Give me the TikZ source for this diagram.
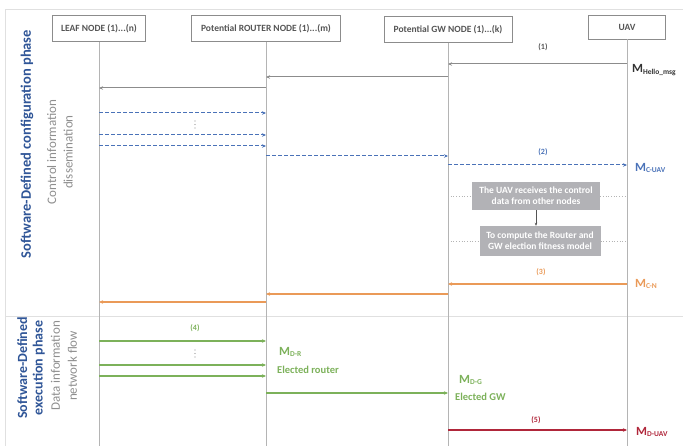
\documentclass[tikz,border=0pt]{standalone}
\usepackage{fontspec}
\setmainfont{Carlito}
\usetikzlibrary{arrows.meta}
\definecolor{lgray}{HTML}{B4B4B4}
\definecolor{mgray}{HTML}{8C8C8C}
\definecolor{tgray}{HTML}{8E8E8E}
\definecolor{hdrtext}{HTML}{555555}
\definecolor{cblue}{HTML}{4A72B8}
\definecolor{phblue}{HTML}{2F5597}
\definecolor{corange}{HTML}{EA9A58}
\definecolor{cgreen}{HTML}{7CB15A}
\definecolor{cred}{HTML}{B0263A}
\definecolor{boxgray}{HTML}{B2B2B6}
\tikzset{
  hdr/.style={draw=mgray, fill=white, minimum height=26pt, inner sep=1pt, font=\fontsize{9.5}{10}\selectfont\bfseries, text=hdrtext},
  life/.style={draw=lgray, line width=0.6pt},
  tipA/.style={-{Stealth[length=4pt,width=3.5pt]}},
  gmsg/.style={tipA, draw=mgray, line width=1pt},
  bmsg/.style={tipA, draw=cblue, dash pattern=on 3.5pt off 2.5pt, line width=1pt},
  omsg/.style={tipA, draw=corange, line width=1.1pt},
  grmsg/.style={tipA, draw=cgreen, line width=1.1pt},
  rmsg/.style={tipA, draw=cred, line width=1.1pt},
  num/.style={font=\fontsize{8}{9}\selectfont\bfseries},
  mlab/.style={anchor=west, inner sep=0pt, font=\fontsize{12.5}{13}\selectfont\bfseries},
  gbox/.style={fill=boxgray, text=white, align=center, font=\fontsize{9.5}{11}\selectfont\bfseries, inner sep=1pt},
  phase/.style={rotate=90, align=center, text=phblue, font=\fontsize{14.5}{15.5}\selectfont\bfseries},
  sub/.style={rotate=90, align=center, text=tgray, font=\fontsize{13}{16.5}\selectfont},
  frame/.style={draw=black!12, line width=0.6pt},
  vdot/.style={circle, fill=tgray, inner sep=0pt, minimum size=1.1pt},
}
\newcommand{\Msub}[2]{M\textsubscript{\fontsize{7.5}{8}\selectfont #2}}
\begin{document}
\begin{tikzpicture}[x=1pt,y=-1pt]
\useasboundingbox (0,0) rectangle (683,446);
% frame
\draw[frame] (5,9) -- (683,9);
\draw[frame] (5,9) -- (5,446);
\draw[frame] (5,316) -- (683,316);
% headers
\node[hdr, minimum width=93pt] (leaf) at (99,28.5) {LEAF NODE (1)...(n)};
\node[hdr, minimum width=149pt] (rtr) at (266,28.5) {Potential ROUTER NODE (1)...(m)};
\node[hdr, minimum width=128pt] (gw) at (448,29.5) {Potential GW NODE (1)...(k)};
\node[hdr, minimum width=77pt, minimum height=24pt] (uav) at (627,27) {UAV};
% lifelines
\coordinate (bot) at (0,446);
\draw[life] (leaf.south) -- (leaf |- bot);
\draw[life] (rtr.south) -- (rtr |- bot);
\draw[life] (gw.south) -- (gw |- bot);
\draw[life] (uav.south) -- (uav |- bot);
% phase labels
\node[phase] (ph1) at (27,144) {Software-Defined configuration phase};
\node[sub] (sb1) at (60,152) {Control information\\dissemination};
\node[phase, font=\fontsize{14}{15.5}\selectfont\bfseries] (ph2) at (31,368) {Software-Defined\\execution phase};
\node[sub, font=\fontsize{13}{17}\selectfont] (sb2) at (64,366) {Data information\\network flow};
% y levels
\coordinate (y1) at (0,64);
\coordinate (y2) at (0,77);
\coordinate (y3) at (0,88);
\coordinate (y4) at (0,113);
\coordinate (y5) at (0,135);
\coordinate (y6) at (0,146);
\coordinate (y7) at (0,156);
\coordinate (y8) at (0,165);
\coordinate (y9) at (0,284);
\coordinate (y10) at (0,294);
\coordinate (y11) at (0,302);
\coordinate (y12) at (0,341);
\coordinate (y13) at (0,365);
\coordinate (y14) at (0,376);
\coordinate (y15) at (0,393);
\coordinate (y16) at (0,430);
% (1) hello
\node[num, text=hdrtext] (n1) at (543,47) {(1)};
\draw[gmsg] (uav |- y1) -- (gw |- y1);
\node[mlab, text=black!80] (mh) at (632,70) {\Msub{M}{Hello\_msg}};
\draw[gmsg] (gw |- y2) -- (rtr |- y2);
\draw[gmsg] (rtr |- y3) -- (leaf |- y3);
% dashed control
\draw[bmsg] (leaf |- y4) -- (rtr |- y4);
\node[vdot] (d1a) at (195,121) {};
\node[vdot] (d1b) at (195,124.5) {};
\node[vdot] (d1c) at (195,128) {};
\draw[bmsg] (leaf |- y5) -- (rtr |- y5);
\draw[bmsg] (leaf |- y6) -- (rtr |- y6);
\draw[bmsg] (rtr |- y7) -- (gw |- y7);
\node[num, text=cblue] (n2) at (543,152) {(2)};
\draw[bmsg] (gw |- y8) -- (uav |- y8);
\node[mlab, text=cblue] (mc) at (635,168) {\Msub{M}{C-UAV}};
% gray boxes
\node[gbox, minimum width=128pt, minimum height=28pt] (bx1) at (536,196) {The UAV receives the control\\data from other nodes};
\node[gbox, minimum width=121pt, minimum height=30pt] (bx2) at (540,241) {To compute the Router and\\GW election fitness model};
\draw[lgray, dotted, line width=0.7pt] (gw |- bx1) -- (bx1.west);
\draw[lgray, dotted, line width=0.7pt] (bx1.east) -- (uav |- bx1);
\draw[lgray, dotted, line width=0.7pt] (gw |- bx2) -- (bx2.west);
\draw[lgray, dotted, line width=0.7pt] (bx2.east) -- (uav |- bx2);
\draw[-{Stealth[length=3pt,width=2.5pt]}, draw=hdrtext, line width=0.6pt] (bx1.south) -- (bx1.south |- bx2.north);
% orange
\node[num, text=corange] (n3) at (541,272) {(3)};
\draw[omsg] (uav |- y9) -- (gw |- y9);
\node[mlab, text=corange] (mcn) at (635,284) {\Msub{M}{C-N}};
\draw[omsg] (gw |- y10) -- (rtr |- y10);
\draw[omsg] (rtr |- y11) -- (leaf |- y11);
% green
\node[num, text=cgreen] (n4) at (195,328) {(4)};
\draw[grmsg] (leaf |- y12) -- (rtr |- y12);
\node[vdot] (d2a) at (195,350) {};
\node[vdot] (d2b) at (195,353.5) {};
\node[vdot] (d2c) at (195,357) {};
\draw[grmsg] (leaf |- y13) -- (rtr |- y13);
\draw[grmsg] (leaf |- y14) -- (rtr |- y14);
\node[mlab, text=cgreen] (mdr) at (279,352) {\Msub{M}{D-R}};
\node[mlab, text=cgreen, font=\fontsize{10.5}{11}\selectfont\bfseries] (er) at (277,370) {Elected router};
\draw[grmsg] (rtr |- y15) -- (gw |- y15);
\node[mlab, text=cgreen] (mdg) at (459,380) {\Msub{M}{D-G}};
\node[mlab, text=cgreen, font=\fontsize{10.5}{11}\selectfont\bfseries] (eg) at (455,397) {Elected GW};
% red
\node[num, text=cred] (n5) at (536,420) {(5)};
\draw[rmsg] (gw |- y16) -- (uav |- y16);
\node[mlab, text=cred] (mdu) at (636,432) {\Msub{M}{D-UAV}};
\end{tikzpicture}
\end{document}
